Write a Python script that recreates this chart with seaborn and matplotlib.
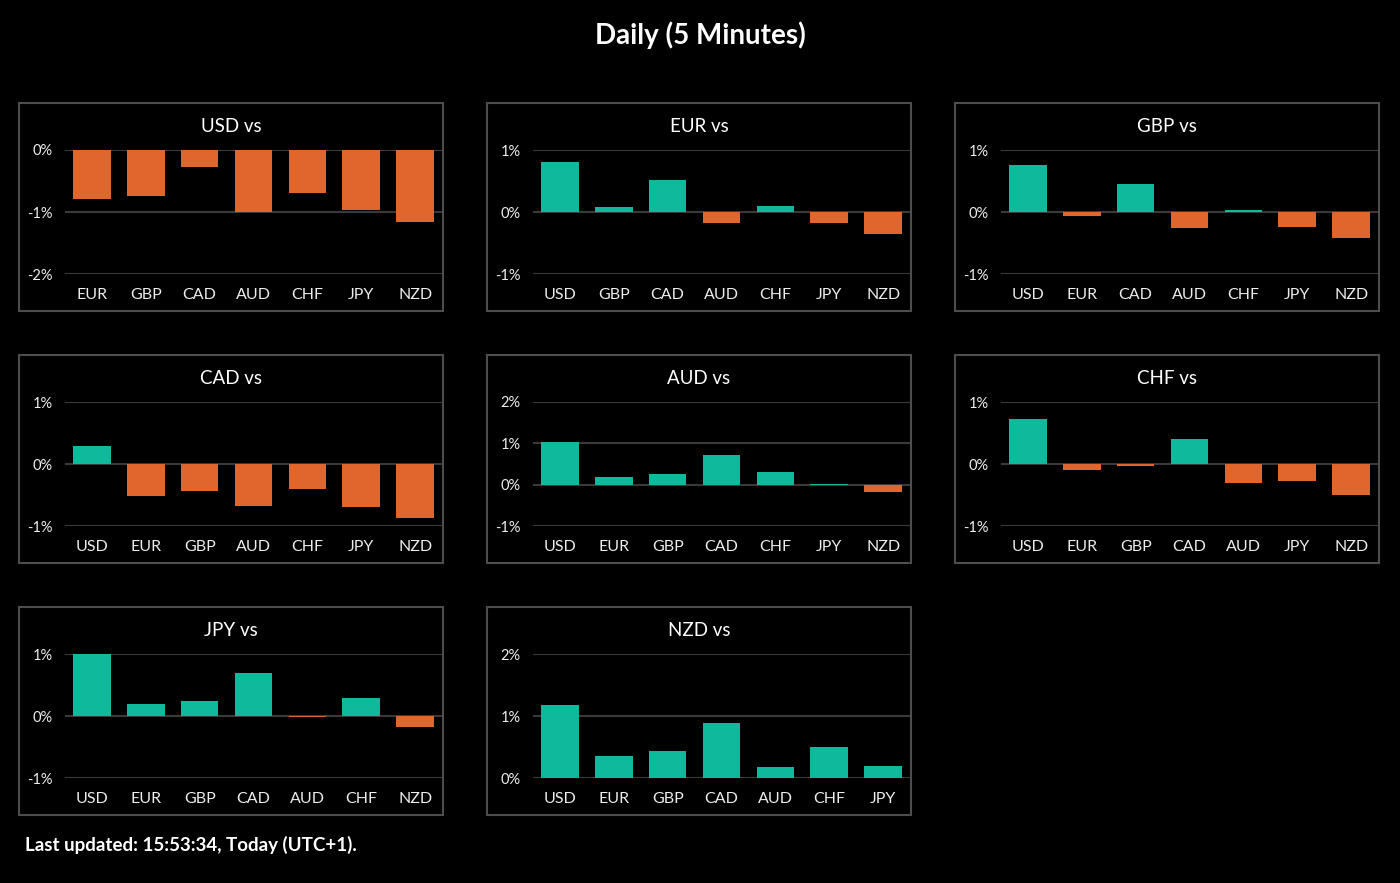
import numpy as np
import pandas as pd
import matplotlib
matplotlib.use("Agg")
from matplotlib import pyplot as plt
from matplotlib.patches import Rectangle
import seaborn as sns

# values in % change
usd_cats = ["EUR", "GBP", "CAD", "AUD", "CHF", "JPY", "NZD"]
usd_vals = [-0.79, -0.74, -0.28, -1.00, -0.70, -0.96, -1.16]

eur_cats = ["USD", "GBP", "CAD", "AUD", "CHF", "JPY", "NZD"]
eur_vals = [0.81, 0.075, 0.52, -0.18, 0.10, -0.18, -0.355]

gbp_cats = ["USD", "EUR", "CAD", "AUD", "CHF", "JPY", "NZD"]
gbp_vals = [0.75, -0.07, 0.45, -0.25, 0.04, -0.24, -0.42]

cad_cats = ["USD", "EUR", "GBP", "AUD", "CHF", "JPY", "NZD"]
cad_vals = [0.29, -0.51, -0.44, -0.68, -0.40, -0.69, -0.87]

aud_cats = ["USD", "EUR", "GBP", "CAD", "CHF", "JPY", "NZD"]
aud_vals = [1.03, 0.19, 0.265, 0.71, 0.31, 0.02, -0.17]

chf_cats = ["USD", "EUR", "GBP", "CAD", "AUD", "JPY", "NZD"]
chf_vals = [0.72, -0.10, -0.04, 0.41, -0.31, -0.28, -0.50]

jpy_cats = ["USD", "EUR", "GBP", "CAD", "AUD", "CHF", "NZD"]
jpy_vals = [1.00, 0.19, 0.24, 0.70, -0.01, 0.29, -0.18]

nzd_cats = ["USD", "EUR", "GBP", "CAD", "AUD", "CHF", "JPY"]
nzd_vals = [1.17, 0.35, 0.44, 0.895, 0.18, 0.50, 0.19]

panels = [
    ("USD vs", usd_cats, usd_vals, [-2, -1, 0]),
    ("EUR vs", eur_cats, eur_vals, [-1, 0, 1]),
    ("GBP vs", gbp_cats, gbp_vals, [-1, 0, 1]),
    ("CAD vs", cad_cats, cad_vals, [-1, 0, 1]),
    ("AUD vs", aud_cats, aud_vals, [-1, 0, 1, 2]),
    ("CHF vs", chf_cats, chf_vals, [-1, 0, 1]),
    ("JPY vs", jpy_cats, jpy_vals, [-1, 0, 1]),
    ("NZD vs", nzd_cats, nzd_vals, [0, 1, 2]),
]

up_color = "#0FB99C"
down_color = "#E0662B"
bg = "#000000"
grid_color = "#3a3a3a"
box_color = "#4d4d4d"

sns.set_theme(style="dark")
plt.rcParams["font.family"] = ["Lato", "DejaVu Sans"]

W, H = 1400, 883
fig = plt.figure(figsize=(14, 8.83), dpi=100, facecolor=bg)

box_lefts = [19, 487, 955]
box_tops = [103, 355, 607]
box_w, box_h = 424, 208

for i, (title, cats, vals, ticks) in enumerate(panels):
    r, c = divmod(i, 3)
    bx, by = box_lefts[c], box_tops[r]
    # panel frame
    fig.add_artist(Rectangle((bx / W, 1 - (by + box_h) / H), box_w / W, box_h / H,
                             transform=fig.transFigure, facecolor="none",
                             edgecolor=box_color, lw=1.5))
    fig.text((bx + box_w / 2) / W, 1 - (by + 24) / H, title, ha="center", va="center",
             color="white", fontsize=13.5)

    ax = fig.add_axes([(bx + 46) / W, 1 - (by + 47 + 124) / H, 377 / W, 124 / H])
    ax.set_facecolor(bg)
    df = pd.DataFrame({"cur": cats, "val": vals})
    df["sign"] = np.where(df["val"] >= 0, "up", "down")
    sns.barplot(data=df, x="cur", y="val", hue="sign", hue_order=["up", "down"],
                palette={"up": up_color, "down": down_color}, dodge=False,
                width=0.7, saturation=1, legend=False, ax=ax, order=cats,
                linewidth=0, edgecolor="none")
    ax.set_ylim(min(ticks), max(ticks))
    ax.set_xlim(-0.5, 6.5)
    ax.set_yticks(ticks)
    ax.set_yticklabels([f"{t}%" for t in ticks])
    ax.set(xlabel="", ylabel="")
    ax.yaxis.grid(True, color=grid_color, lw=1.5)
    ax.xaxis.grid(False)
    ax.set_axisbelow(True)
    for s in ax.spines.values():
        s.set_visible(False)
    ax.tick_params(axis="y", length=0, pad=9, labelsize=10.5, labelcolor="#ededed")
    ax.tick_params(axis="x", length=0, pad=10, labelsize=11.5, labelcolor="#ededed")

fig.text(0.5, 1 - 35 / H, "Daily (5 Minutes)", ha="center", va="center",
         color="white", fontsize=20, fontweight="bold")
fig.text(25 / W, 1 - 845 / H, "Last updated: 15:53:34, Today (UTC+1).", ha="left",
         va="center", color="white", fontsize=13.5, fontweight="bold")

plt.savefig("out.png", dpi=100, facecolor=bg)
